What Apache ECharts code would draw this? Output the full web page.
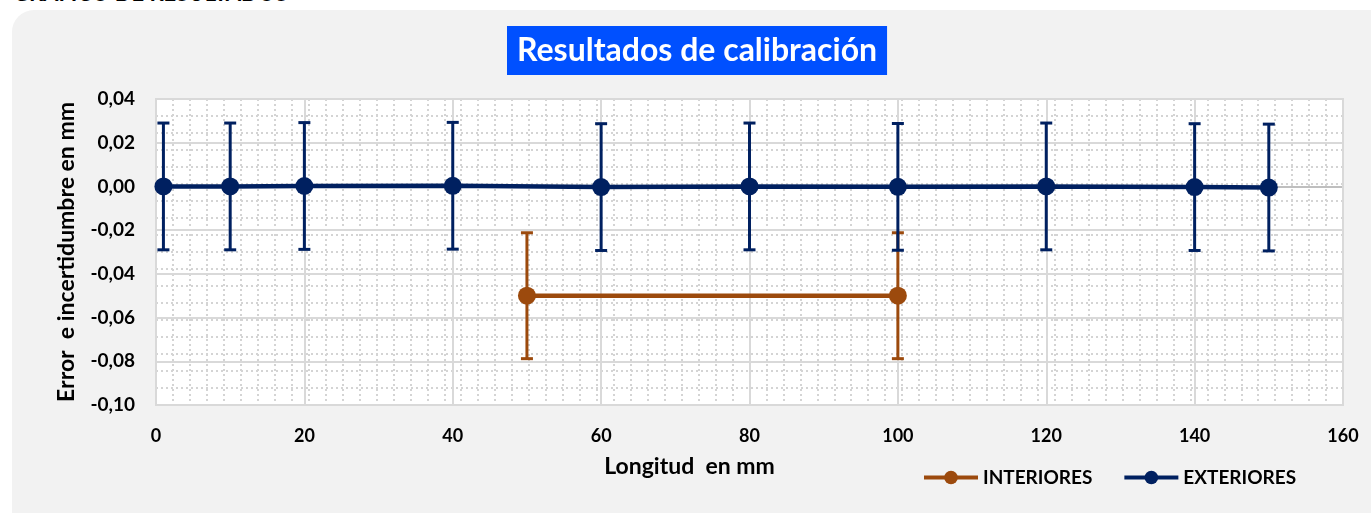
<!DOCTYPE html>
<html>
<head>
<meta charset="utf-8">
<script src="https://cdn.jsdelivr.net/npm/echarts@6/dist/echarts.min.js"></script>
<style>
  html, body { margin: 0; padding: 0; background: #fff; overflow: hidden; }
  #wrap { position: relative; width: 1371px; height: 513px; overflow: hidden; }
  #box { position: absolute; left: 12px; top: 10px; width: 1400px; height: 540px; background: #f2f2f2; border-radius: 22px; }
  #head { position: absolute; left: 13px; top: -20px; font: bold 22px Lato, sans-serif; line-height: 26px; color: #000; white-space: pre; }
  #chart { position: absolute; left: 0; top: 0; width: 1371px; height: 513px; }
</style>
</head>
<body>
<div id="wrap">
  <div id="box"></div>
  <div id="head">GRAFICO DE RESULTADOS</div>
  <div id="chart"></div>
</div>
<script>
// exteriores: longitud nominal, error, incertidumbre
const extX = [1, 10, 20, 40, 60, 80, 100, 120, 140, 150]
const extErr = [0.0000, 0.0000, 0.0002, 0.0003, -0.0003, 0.0000, -0.0002, 0.0000, -0.0003, -0.0005]
const extU = [0.029, 0.029, 0.029, 0.029, 0.029, 0.029, 0.029, 0.029, 0.029, 0.029]

// interiores
const intX = [50, 100]
const intErr = [-0.050, -0.050]
const intU = [0.0288, 0.0288]

const NAVY = '#002060'
const BROWN = '#9c4a0d'
const GRID = '#d9d9d9'
const DOTS = '#d4d4d4'
const FONT = 'Lato, "Noto Sans", sans-serif'

function yLabel(v) {
  const r = Math.round(v * 100) / 100
  return (r === 0 ? 0 : r).toFixed(2).replace('.', ',')
}

function lineSeries(name, xs, ys, color, z) {
  return {
    name,
    type: 'line',
    data: xs.map((x, i) => [x, ys[i]]),
    symbol: 'circle',
    symbolSize: 18,
    lineStyle: { color, width: 4.5 },
    itemStyle: { color },
    z,
    animation: false
  }
}

function errorSeries(name, xs, ys, us, color, z) {
  return {
    name,
    type: 'custom',
    data: xs.map((x, i) => [x, ys[i], us[i]]),
    encode: { x: 0, y: 1 },
    z,
    silent: true,
    animation: false,
    renderItem(params, api) {
      const x = api.value(0), y = api.value(1), u = api.value(2)
      const top = api.coord([x, y + u])
      const bot = api.coord([x, y - u])
      const w = 6
      const st = { stroke: color, lineWidth: 3 }
      return {
        type: 'group',
        children: [
          { type: 'line', shape: { x1: top[0], y1: top[1], x2: bot[0], y2: bot[1] }, style: st },
          { type: 'line', shape: { x1: top[0] - w, y1: top[1], x2: top[0] + w, y2: top[1] }, style: st },
          { type: 'line', shape: { x1: bot[0] - w, y1: bot[1], x2: bot[0] + w, y2: bot[1] }, style: st }
        ]
      }
    }
  }
}

const zeroLine = Array(8).fill(GRID)
zeroLine[5] = '#bfbfbf'

const option = {
  backgroundColor: 'transparent',
  textStyle: { fontFamily: FONT },
  title: {
    text: 'Resultados de calibración',
    left: 507,
    top: 26,
    backgroundColor: '#0050ff',
    padding: [7, 10, 7, 10],
    textStyle: { color: '#fff', fontFamily: FONT, fontWeight: 'bold', fontSize: 32, lineHeight: 35 }
  },
  legend: {
    data: ['INTERIORES', 'EXTERIORES'],
    left: 917,
    top: 463,
    itemWidth: 54,
    itemHeight: 17,
    itemGap: 30,
    lineStyle: { width: 4 },
    textStyle: { color: '#000', fontFamily: FONT, fontWeight: 'bold', fontSize: 19 }
  },
  grid: {
    left: 156, right: 28, top: 99, bottom: 108,
    show: true,
    backgroundColor: '#fff',
    borderColor: GRID,
    borderWidth: 2
  },
  xAxis: [{
    type: 'value',
    min: 0, max: 160, interval: 20,
    z: 1,
    axisLine: { show: false },
    axisTick: { show: false },
    axisLabel: { color: '#000', fontFamily: FONT, fontWeight: 'bold', fontSize: 18, margin: 22 },
    splitLine: { lineStyle: { color: GRID, width: 2 } },
    name: 'Longitud  en mm',
    nameLocation: 'middle',
    nameGap: 50,
    nameTextStyle: { color: '#000', fontFamily: FONT, fontWeight: 'bold', fontSize: 23, padding: [0, 120, 0, 0] }
  }, {
    type: 'value',
    min: 0, max: 70, interval: 1,
    position: 'top',
    z: 0,
    axisLine: { show: false },
    axisTick: { show: false },
    axisLabel: { show: false },
    splitLine: { lineStyle: { color: DOTS, width: 2, type: [2, 3] } }
  }],
  yAxis: [{
    type: 'value',
    min: -0.1, max: 0.04, interval: 0.02,
    z: 1,
    axisLine: { show: false },
    axisTick: { show: false },
    axisLabel: { color: '#000', fontFamily: FONT, fontWeight: 'bold', fontSize: 19, margin: 21, formatter: yLabel },
    splitLine: { lineStyle: { color: zeroLine, width: 2 } },
    name: 'Error  e incertidumbre en mm',
    nameLocation: 'middle',
    nameGap: 78,
    nameTextStyle: { color: '#000', fontFamily: FONT, fontWeight: 'bold', fontSize: 23 }
  }, {
    type: 'value',
    min: 0, max: 18, interval: 1,
    position: 'right',
    z: 0,
    axisLine: { show: false },
    axisTick: { show: false },
    axisLabel: { show: false },
    splitLine: { lineStyle: { color: DOTS, width: 2, type: [2, 3] } }
  }],
  series: [
    lineSeries('INTERIORES', intX, intErr, BROWN, 4),
    lineSeries('EXTERIORES', extX, extErr, NAVY, 6),
    errorSeries('INTERIORES_U', intX, intErr, intU, BROWN, 3),
    errorSeries('EXTERIORES_U', extX, extErr, extU, NAVY, 5)
  ]
}

const chart = echarts.init(document.getElementById('chart'))
chart.setOption(option)
</script>
</body>
</html>
